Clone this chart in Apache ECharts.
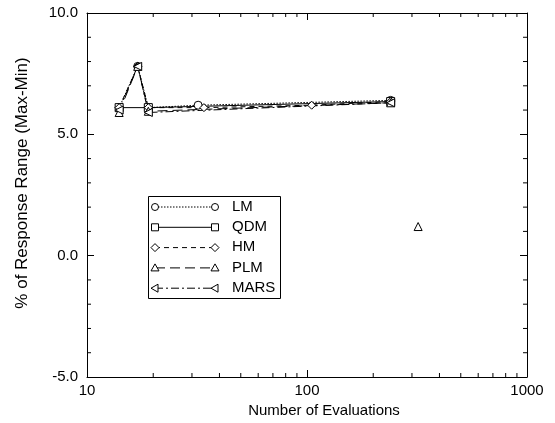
<!DOCTYPE html>
<html>
<head>
<meta charset="utf-8">
<script src="https://cdn.jsdelivr.net/npm/echarts@6/dist/echarts.min.js"></script>
<style>
  html, body { margin: 0; padding: 0; background: #fff; }
  #chart { width: 555px; height: 423px; }
</style>
</head>
<body>
<div id="chart"></div>
<script>
var names = ['LM', 'QDM', 'HM', 'PLM', 'MARS'];

// [evaluations, % of range]; '-' breaks the line
var lmData   = [[14, 6.1], [17, 7.8], [19, 6.1], [32, 6.2], [240, 6.4]];
var qdmData  = [[14, 6.1], [19, 6.1], [240, 6.35]];
var hmData   = [[14, 6.1], [17, 7.8], [19, 6.1], [34, 6.1], [105, 6.2], [240, 6.35]];
var plmData  = [[14, 5.9], [17, 7.8], [19, 5.95], [240, 6.3], [280, '-'], [320, 1.2]];
var marsData = [[14, 6.0], [17, 7.8], [19, 5.9], [240, 6.3]];

var xMinorTicks = [20, 30, 40, 50, 60, 70, 80, 90, 200, 300, 400, 500, 600, 700, 800, 900];
var yMinorTicks = [-4, -3, -2, -1, 1, 2, 3, 4, 6, 7, 8, 9];

var symbols = ['circle', 'rect', 'diamond', 'triangle', 'triangle'];
var rotates = [0, 0, 0, 0, 90];
var dashes = [[1.5, 1.5], 'solid', [5, 4], [10, 5], [8, 3, 2, 3]];
var allData = [lmData, qdmData, hmData, plmData, marsData];

var font = 'Liberation Sans, Arial, sans-serif';

var chart = echarts.init(document.getElementById('chart'));

var series = names.map(function (n, i) {
  return {
    name: n,
    type: 'line',
    data: allData[i],
    symbol: symbols[i],
    symbolSize: 8,
    symbolRotate: rotates[i],
    connectNulls: false,
    lineStyle: { color: '#000', width: 1, type: dashes[i] },
    itemStyle: { color: '#fff', borderColor: '#000', borderWidth: 1 },
    z: 3
  };
});

function tickLine(x1, y1, x2, y2) {
  return { type: 'line', shape: { x1: x1, y1: y1, x2: x2, y2: y2 }, style: { stroke: '#000', lineWidth: 1 } };
}

// minor ticks drawn through the axis scales
series.push({
  type: 'custom',
  silent: true,
  clip: false,
  data: xMinorTicks.map(function (v) { return [v, -5]; }),
  encode: { x: 0, y: 1 },
  renderItem: function (params, api) {
    var b = api.coord([api.value(0), -5]);
    var t = api.coord([api.value(0), 10]);
    return {
      type: 'group',
      children: [tickLine(b[0], b[1], b[0], b[1] - 4), tickLine(t[0], t[1], t[0], t[1] + 4)]
    };
  }
});
series.push({
  type: 'custom',
  silent: true,
  clip: false,
  data: yMinorTicks.map(function (v) { return [10, v]; }),
  encode: { x: 0, y: 1 },
  renderItem: function (params, api) {
    var l = api.coord([10, api.value(1)]);
    var r = api.coord([1000, api.value(1)]);
    return {
      type: 'group',
      children: [tickLine(l[0], l[1], l[0] + 4, l[1]), tickLine(r[0], r[1], r[0] - 4, r[1])]
    };
  }
});

// legend box drawn by hand so markers sit at both ends of the sample line
var legendItems = [];
legendItems.push({
  type: 'rect', left: 148, top: 196,
  shape: { width: 132, height: 102 },
  style: { fill: '#fff', stroke: '#000', lineWidth: 1 },
  z: 10
});
function markerShape(i, cx, cy) {
  var st = { fill: '#fff', stroke: '#000', lineWidth: 1 };
  if (i === 0) return { type: 'circle', shape: { cx: cx, cy: cy, r: 3.5 }, style: st, z: 12 };
  if (i === 1) return { type: 'rect', shape: { x: cx - 3.5, y: cy - 3.5, width: 7, height: 7 }, style: st, z: 12 };
  if (i === 2) return { type: 'polygon', shape: { points: [[cx, cy - 4], [cx + 4, cy], [cx, cy + 4], [cx - 4, cy]] }, style: st, z: 12 };
  if (i === 3) return { type: 'polygon', shape: { points: [[cx, cy - 4], [cx + 4, cy + 3], [cx - 4, cy + 3]] }, style: st, z: 12 };
  return { type: 'polygon', shape: { points: [[cx - 4, cy], [cx + 3, cy - 4], [cx + 3, cy + 4]] }, style: st, z: 12 };
}
names.forEach(function (n, i) {
  var y = 207 + i * 20.3;
  var dash = dashes[i] === 'solid' ? null : dashes[i];
  legendItems.push({
    type: 'line',
    shape: { x1: 155, y1: y, x2: 215, y2: y },
    style: { stroke: '#000', lineWidth: 1, lineDash: dash },
    z: 11
  });
  legendItems.push(markerShape(i, 155, y));
  legendItems.push(markerShape(i, 215, y));
  legendItems.push({
    type: 'text', left: 232, top: y - 8,
    style: { text: n, fill: '#000', font: '15px ' + font },
    z: 12
  });
});

var tickStyle = { color: '#000', width: 1 };
var option = {
  animation: false,
  backgroundColor: '#fff',
  grid: { left: 87, right: 28, top: 13, bottom: 46 },
  xAxis: [{
    type: 'log',
    min: 10,
    max: 1000,
    logBase: 10,
    name: 'Number of Evaluations',
    nameLocation: 'middle',
    nameGap: 23,
    nameTextStyle: { color: '#000', fontFamily: font, fontSize: 15, padding: [0, 0, 0, 34] },
    axisLine: { onZero: false, lineStyle: tickStyle },
    axisTick: { inside: true, length: 7, lineStyle: tickStyle },
    axisLabel: {
      color: '#000', fontFamily: font, fontSize: 15, margin: 6,
      formatter: function (v) { return String(Math.round(v)); }
    },
    splitLine: { show: false }
  }, {
    type: 'log',
    min: 10,
    max: 1000,
    position: 'top',
    axisLine: { onZero: false, lineStyle: tickStyle },
    axisTick: { inside: true, length: 7, lineStyle: tickStyle },
    axisLabel: { show: false },
    splitLine: { show: false }
  }],
  yAxis: [{
    type: 'value',
    min: -5,
    max: 10,
    interval: 5,
    name: '% of Response Range (Max-Min)',
    nameLocation: 'middle',
    nameGap: 56,
    nameTextStyle: { color: '#000', fontFamily: font, fontSize: 17, padding: [0, 0, 0, 24] },
    axisLine: { show: true, onZero: false, lineStyle: tickStyle },
    axisTick: { inside: true, length: 7, lineStyle: tickStyle },
    axisLabel: {
      color: '#000', fontFamily: font, fontSize: 15, margin: 9,
      formatter: function (v) { return v.toFixed(1); }
    },
    splitLine: { show: false }
  }, {
    type: 'value',
    min: -5,
    max: 10,
    interval: 5,
    position: 'right',
    axisLine: { show: true, onZero: false, lineStyle: tickStyle },
    axisTick: { inside: true, length: 7, lineStyle: tickStyle },
    axisLabel: { show: false },
    splitLine: { show: false }
  }],
  series: series,
  graphic: legendItems
};

chart.setOption(option);
</script>
</body>
</html>
